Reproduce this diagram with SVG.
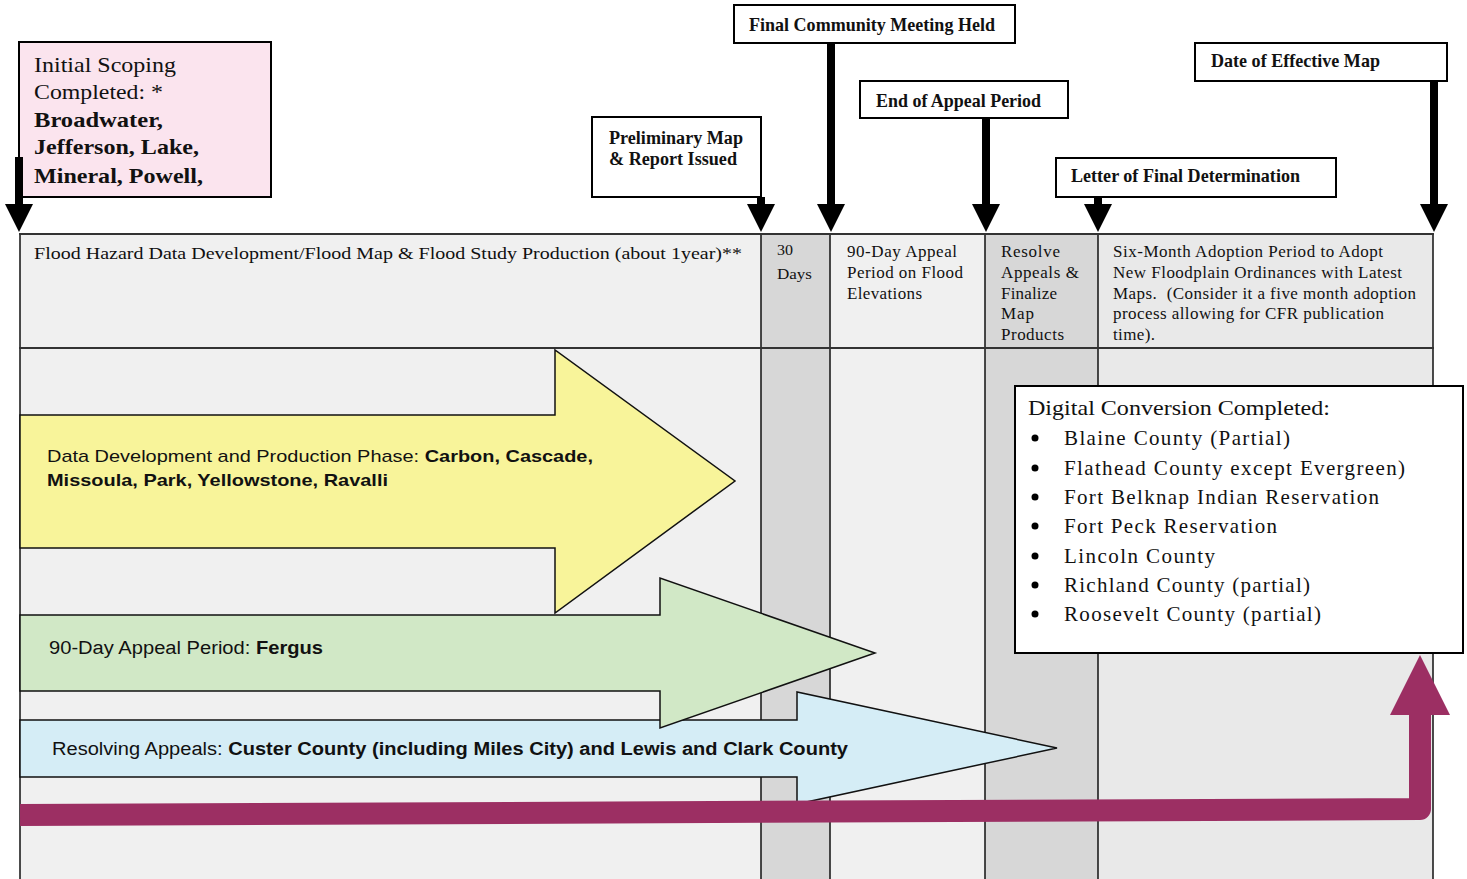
<svg xmlns="http://www.w3.org/2000/svg" width="1467" height="879" viewBox="0 0 1467 879">
<style>
.serif{font-family:"Liberation Serif","Times New Roman",serif;fill:#111}
.sans{font-family:"Liberation Sans",Arial,sans-serif;fill:#111}
.box{stroke:#000;stroke-width:2}
.col{stroke:#111;stroke-width:1.5}
.arr{stroke:#111;stroke-width:1.5;stroke-linejoin:miter}
.b{font-weight:bold}
</style>
<defs>
<marker id="head" viewBox="0 0 28 28" refX="6" refY="14" markerWidth="28" markerHeight="28" markerUnits="userSpaceOnUse" orient="auto">
<path d="M0,0 L28,14 L0,28 Z" fill="#000"/>
</marker>
</defs>
<rect width="1467" height="879" fill="#fff"/>
<g id="grid">
<rect x="20" y="234" width="741" height="645" fill="#f0f0f0"/>
<rect x="761" y="234" width="69" height="645" fill="#d7d7d7"/>
<rect x="830" y="234" width="155" height="645" fill="#f0f0f0"/>
<rect x="985" y="234" width="113" height="645" fill="#d7d7d7"/>
<rect x="1098" y="234" width="335" height="645" fill="#e9e9e9"/>
<line class="col" x1="20" y1="234" x2="20" y2="879"/>
<line class="col" x1="761" y1="234" x2="761" y2="879"/>
<line class="col" x1="830" y1="234" x2="830" y2="879"/>
<line class="col" x1="985" y1="234" x2="985" y2="879"/>
<line class="col" x1="1098" y1="234" x2="1098" y2="879"/>
<line class="col" x1="1433" y1="234" x2="1433" y2="879"/>
<line x1="19" y1="234" x2="1434" y2="234" stroke="#333" stroke-width="2"/>
<line x1="19" y1="348" x2="1434" y2="348" stroke="#333" stroke-width="2"/>
</g>
<g id="header-text">
<text class="serif" x="34" y="259" font-size="17" textLength="708" lengthAdjust="spacingAndGlyphs">Flood Hazard Data Development/Flood Map &amp; Flood Study Production (about 1year)**</text>
<text class="serif" x="777" y="255" font-size="14" textLength="16" lengthAdjust="spacingAndGlyphs">30</text>
<text class="serif" x="777" y="279" font-size="14" textLength="35" lengthAdjust="spacingAndGlyphs">Days</text>
<text class="serif" font-size="17" lengthAdjust="spacingAndGlyphs">
<tspan x="847" y="257" textLength="110">90-Day Appeal</tspan>
<tspan x="847" y="278" textLength="116">Period on Flood</tspan>
<tspan x="847" y="299" textLength="75">Elevations</tspan>
</text>
<text class="serif" font-size="17" lengthAdjust="spacingAndGlyphs">
<tspan x="1001" y="257" textLength="59">Resolve</tspan>
<tspan x="1001" y="278" textLength="78">Appeals &amp;</tspan>
<tspan x="1001" y="299" textLength="56">Finalize</tspan>
<tspan x="1001" y="319" textLength="33">Map</tspan>
<tspan x="1001" y="340" textLength="63">Products</tspan>
</text>
<text class="serif" font-size="17" lengthAdjust="spacingAndGlyphs">
<tspan x="1113" y="257" textLength="270">Six-Month Adoption Period to Adopt</tspan>
<tspan x="1113" y="278" textLength="289">New Floodplain Ordinances with Latest</tspan>
<tspan x="1113" y="299" textLength="303" xml:space="preserve">Maps.  (Consider it a five month adoption</tspan>
<tspan x="1113" y="319" textLength="271">process allowing for CFR publication</tspan>
<tspan x="1113" y="340" textLength="42">time).</tspan>
</text>
</g>
<g id="phase-yellow">
<path class="arr" d="M20,415 H555 V350 L735,481 L555,613 V548 H20 Z" fill="#f8f49a"/>
<text class="sans" x="47" y="462" font-size="17" textLength="546" lengthAdjust="spacingAndGlyphs">Data Development and Production Phase: <tspan class="b">Carbon, Cascade,</tspan></text>
<text class="sans b" x="47" y="486" font-size="17" textLength="341" lengthAdjust="spacingAndGlyphs">Missoula, Park, Yellowstone, Ravalli</text>
</g>
<g id="phase-blue">
<path class="arr" d="M20,720 H797 V692 L1057,748 L797,804 V777 H20 Z" fill="#d5edf6"/>
<text class="sans" x="52" y="755" font-size="18" textLength="796" lengthAdjust="spacingAndGlyphs">Resolving Appeals: <tspan class="b">Custer County (including Miles City) and Lewis and Clark County</tspan></text>
</g>
<g id="phase-green">
<path class="arr" d="M20,615 H660 V578 L875,653 L660,728 V691 H20 Z" fill="#d1e8c6"/>
<text class="sans" x="49" y="654" font-size="18" textLength="274" lengthAdjust="spacingAndGlyphs">90-Day Appeal Period: <tspan class="b">Fergus</tspan></text>
</g>
<g id="digital-conversion">
<rect class="box" x="1015" y="386" width="448" height="267" fill="#fff"/>
<text class="serif" x="1028" y="415" font-size="21" textLength="302" lengthAdjust="spacingAndGlyphs">Digital Conversion Completed:</text>
<g fill="#000">
<circle cx="1035" cy="438" r="3.5"/>
<circle cx="1035" cy="468" r="3.5"/>
<circle cx="1035" cy="497" r="3.5"/>
<circle cx="1035" cy="526" r="3.5"/>
<circle cx="1035" cy="556" r="3.5"/>
<circle cx="1035" cy="585" r="3.5"/>
<circle cx="1035" cy="614" r="3.5"/>
</g>
<text class="serif" font-size="21" lengthAdjust="spacingAndGlyphs">
<tspan x="1064" y="445" textLength="226">Blaine County (Partial)</tspan>
<tspan x="1064" y="475" textLength="341">Flathead County except Evergreen)</tspan>
<tspan x="1064" y="504" textLength="315">Fort Belknap Indian Reservation</tspan>
<tspan x="1064" y="533" textLength="213">Fort Peck Reservation</tspan>
<tspan x="1064" y="563" textLength="151">Lincoln County</tspan>
<tspan x="1064" y="592" textLength="246">Richland County (partial)</tspan>
<tspan x="1064" y="621" textLength="257">Roosevelt County (partial)</tspan>
</text>
</g>
<g id="initial-scoping">
<rect class="box" x="19" y="42" width="252" height="155" fill="#fbe4ee"/>
<text class="serif" x="34" y="72" font-size="21" textLength="142" lengthAdjust="spacingAndGlyphs">Initial Scoping</text>
<text class="serif" x="34" y="99" font-size="21" textLength="129" lengthAdjust="spacingAndGlyphs">Completed: *</text>
<text class="serif b" x="34" y="127" font-size="21" textLength="129" lengthAdjust="spacingAndGlyphs">Broadwater,</text>
<text class="serif b" x="34" y="154" font-size="21" textLength="165" lengthAdjust="spacingAndGlyphs">Jefferson, Lake,</text>
<text class="serif b" x="34" y="183" font-size="21" textLength="169" lengthAdjust="spacingAndGlyphs">Mineral, Powell,</text>
</g>
<g id="preliminary-map">
<rect class="box" x="592" y="117" width="169" height="80" fill="#fff"/>
<text class="serif b" x="609" y="144" font-size="18" textLength="134" lengthAdjust="spacingAndGlyphs">Preliminary Map</text>
<text class="serif b" x="609" y="165" font-size="18" textLength="128" lengthAdjust="spacingAndGlyphs">&amp; Report Issued</text>
</g>
<g id="final-community-meeting">
<rect class="box" x="734" y="5" width="281" height="38" fill="#fff"/>
<text class="serif b" x="749" y="31" font-size="19" textLength="246" lengthAdjust="spacingAndGlyphs">Final Community Meeting Held</text>
</g>
<g id="end-of-appeal">
<rect class="box" x="860" y="81" width="208" height="37" fill="#fff"/>
<text class="serif b" x="876" y="107" font-size="19" textLength="165" lengthAdjust="spacingAndGlyphs">End of Appeal Period</text>
</g>
<g id="letter-final-determination">
<rect class="box" x="1056" y="158" width="280" height="39" fill="#fff"/>
<text class="serif b" x="1071" y="182" font-size="19" textLength="229" lengthAdjust="spacingAndGlyphs">Letter of Final Determination</text>
</g>
<g id="date-effective-map">
<rect class="box" x="1195" y="43" width="252" height="38" fill="#fff"/>
<text class="serif b" x="1211" y="67" font-size="19" textLength="169" lengthAdjust="spacingAndGlyphs">Date of Effective Map</text>
</g>
<g id="connectors" stroke="#000" stroke-width="8" fill="none">
<line x1="19" y1="157" x2="19" y2="210" marker-end="url(#head)"/>
<line x1="761" y1="197" x2="761" y2="210" marker-end="url(#head)"/>
<line x1="831" y1="43" x2="831" y2="210" marker-end="url(#head)"/>
<line x1="986" y1="118" x2="986" y2="210" marker-end="url(#head)"/>
<line x1="1098" y1="197" x2="1098" y2="210" marker-end="url(#head)"/>
<line x1="1434" y1="81" x2="1434" y2="210" marker-end="url(#head)"/>
<path d="M20,815 L1420,809 L1420,712" stroke="#9c2f63" stroke-width="22" stroke-linejoin="round"/>
<path d="M1390,715 L1450,715 L1420,655 Z" fill="#9c2f63" stroke="none"/>
</g>
</svg>
